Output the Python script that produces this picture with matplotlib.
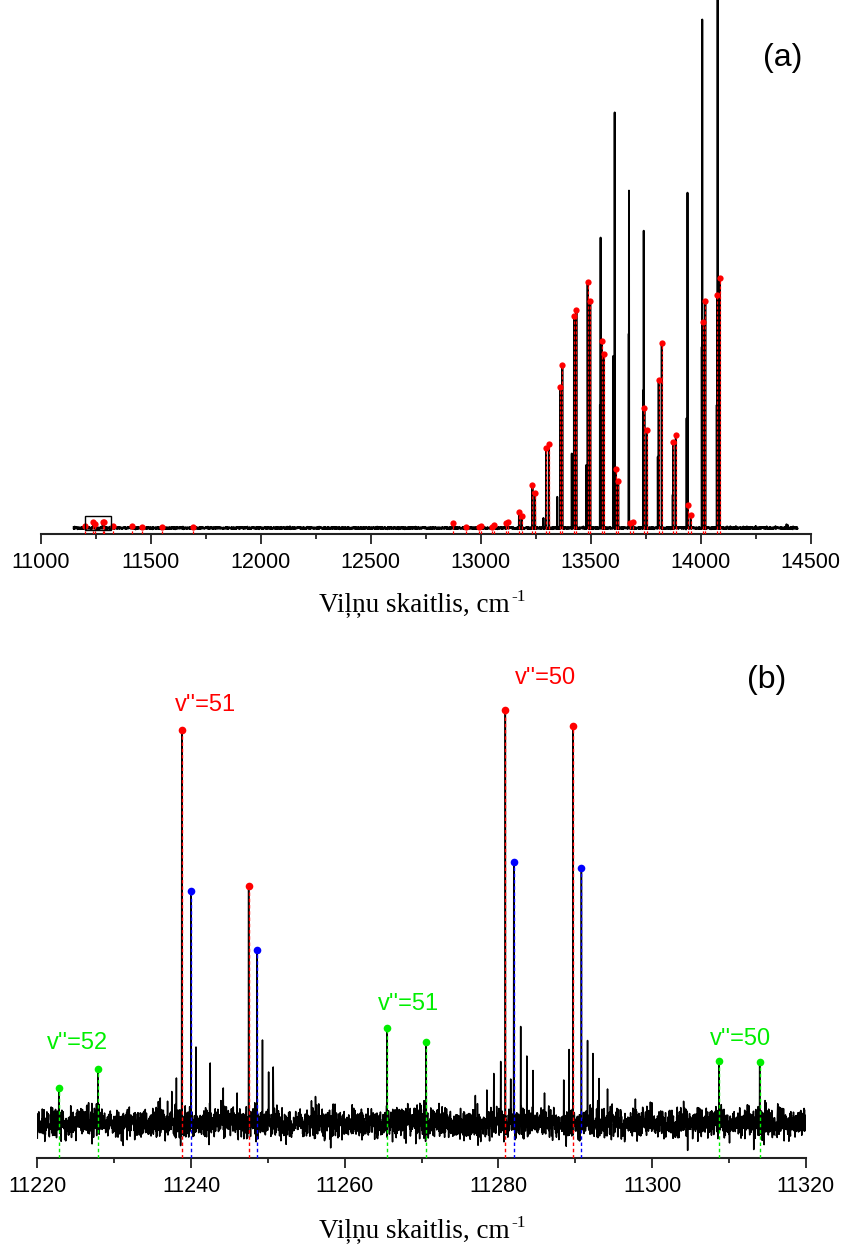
import numpy as np
import matplotlib
matplotlib.use('Agg')
import matplotlib.pyplot as plt
from matplotlib.patches import Rectangle
from matplotlib.ticker import MultipleLocator

# ---------------- panel (a) data ----------------
a_red_wn = [11201, 11239, 11248, 11282, 11288, 11330, 11414, 11459, 11551, 11691,
            12873, 12932, 12992, 13003, 13050, 13062, 13114, 13124, 13174, 13186,
            13235, 13247, 13297, 13310, 13362, 13371, 13424, 13435, 13486, 13498,
            13550, 13560, 13615, 13625, 13677, 13692, 13744, 13756, 13809, 13823,
            13875, 13887, 13942, 13955, 14009, 14021, 14075, 14087]
a_red_h = [0.38, 1.08, 0.70, 1.08, 1.08, 0.44, 0.32, 0.25, 0.25, 0.25,
           0.89, 0.13, 0.19, 0.32, 0.25, 0.63, 0.95, 1.08, 3.03, 2.37,
           8.18, 6.63, 15.2, 15.9, 26.8, 30.8, 40.2, 41.3, 46.6, 42.9,
           35.4, 32.9, 11.1, 8.9, 0.89, 1.08, 22.8, 18.5, 28.0, 35.0,
           16.2, 17.6, 4.36, 2.46, 39.1, 42.9, 44.1, 47.3]
a_tall_wn = [13545, 13609, 13674, 13741, 13940, 14007, 14077]
a_tall_h = [55.0, 78.7, 63.9, 56.3, 63.5, 96.3, 104.0]
a_side_wn = [13285, 13348, 13414, 13479, 13542, 13603, 13673, 13739, 13805, 13873,
             13936, 14005, 14073]
a_side_h = [1.9, 5.9, 14.1, 11.9, 23.3, 32.6, 36.8, 26.1, 13.5, 6.3,
            20.8, 34.3, 23.3]
a_small_wn = [11760, 11850, 11940, 12030, 12120, 14120, 14160, 14210, 14250, 14300,
              14340, 14390, 14395, 14420]
a_small_h = [0.25, 0.2, 0.25, 0.2, 0.25, 0.3, 0.35, 0.3, 0.4, 0.3,
             0.35, 0.7, 0.6, 0.3]
a_box = [11200, 11320]
a_xticks = [11000, 11500, 12000, 12500, 13000, 13500, 14000, 14500]

# ---------------- panel (b) data ----------------
b_red_wn = [11238.8, 11247.5, 11280.9, 11289.7]
b_red_h = [78.7, 47.5, 82.7, 79.5]
b_blue_wn = [11240.0, 11248.6, 11282.0, 11290.8]
b_blue_h = [46.5, 34.6, 52.3, 51.1]
b_green_wn = [11222.8, 11227.9, 11265.5, 11270.6, 11308.7, 11314.0]
b_green_h = [7.06, 10.9, 19.1, 16.3, 12.4, 12.2]
b_extra_wn = [11236.0, 11237.5, 11238.1, 11240.65, 11242.5, 11244.2, 11246.0, 11249.3,
              11250.1, 11250.7, 11256.2, 11277.0, 11278.5, 11279.4, 11280.3, 11281.6,
              11282.9, 11283.7, 11284.5, 11286.0, 11288.5, 11289.2, 11291.6, 11292.3,
              11293.1, 11294.2]
b_extra_h = [5.0, 6.3, 9.0, 15.2, 12.0, 7.0, 6.0, 16.6,
             10.2, 11.2, 5.3, 5.5, 6.6, 9.9, 12.3, 8.8,
             19.3, 13.4, 10.5, 6.0, 8.6, 14.7, 16.5, 13.9,
             8.9, 6.8]
b_labels = ["v''=51", "v''=50", "v''=52", "v''=51", "v''=50"]
b_label_colors = ['#ff0000', '#ff0000', '#00ee00', '#00ee00', '#00ee00']
b_xticks = [11220, 11240, 11260, 11280, 11300, 11320]

xlabel_main = 'Viļņu skaitlis, cm'
xlabel_sup = '-1'

RED = '#ff0000'
BLUE = '#0000ff'
GREEN = '#00ee00'

W, H = 844, 1244
fig = plt.figure(figsize=(W / 100, H / 100), dpi=100)


def spectrum(grid, base, wns, hs):
    y = base.copy()
    for w, h in zip(wns, hs):
        i = int(np.argmin(np.abs(grid - w)))
        y[i] = max(y[i], h)
    return y


def style_axis(ax, minor, ticks):
    ax.patch.set_visible(False)
    for s in ['left', 'top', 'right']:
        ax.spines[s].set_visible(False)
    ax.spines['bottom'].set_linewidth(1.5)
    ax.spines['bottom'].set_color('#222222')
    ax.set_yticks([])
    ax.set_xticks(ticks)
    ax.xaxis.set_minor_locator(MultipleLocator(minor))
    ax.tick_params(axis='x', which='major', length=7.5, width=1.3, color='#222222',
                   direction='out', pad=5, labelsize=15.5)
    ax.tick_params(axis='x', which='minor', length=3.8, width=1.3, color='#222222',
                   direction='out')
    for lab in ax.get_xticklabels():
        lab.set_fontfamily('Liberation Sans')


def axis_label(x_left_px, baseline_px):
    t = fig.text(x_left_px / W, 1 - baseline_px / H, xlabel_main, fontsize=19.5,
                 fontfamily='Liberation Serif', ha='left', va='baseline')
    fig.canvas.draw()
    bb = t.get_window_extent()
    fig.text((bb.x1 + 2) / W, 1 - (baseline_px - 10) / H, xlabel_sup, fontsize=12.5,
             fontfamily='Liberation Serif', ha='left', va='baseline')


rng = np.random.default_rng(3)

# ---------------- panel (a) ----------------
a_bottom_px, a_top_px = 534.3, 0.0
axA = fig.add_axes([40.7 / W, 1 - a_bottom_px / H, (810.7 - 40.7) / W,
                    (a_bottom_px - a_top_px) / H])
ga = np.arange(11150, 14440, 0.5)
base_a = rng.normal(0, 0.08, ga.size)
all_wn = a_red_wn + a_tall_wn + a_side_wn + a_small_wn
all_h = a_red_h + a_tall_h + a_side_h + a_small_h
ya = spectrum(ga, base_a, all_wn, all_h)
axA.plot(ga, ya, color='black', lw=1.4, zorder=2)
yminA = -1.19
axA.vlines(a_red_wn, yminA, a_red_h, colors=RED, linestyles=(0, (2.5, 1.5)), lw=0.9, zorder=3)
axA.plot(a_red_wn, a_red_h, 'o', color=RED, ms=4.5, mec='none', zorder=4)
axA.add_patch(Rectangle((a_box[0], -0.44), a_box[1] - a_box[0], 2.77, fill=False,
                        ec='black', lw=1.0, zorder=5))
axA.set_xlim(11000, 14500)
axA.set_ylim(yminA, 100)
style_axis(axA, 250, a_xticks)
fig.text(783 / W, 1 - 58 / H, '(a)', fontsize=23, fontfamily='Liberation Sans',
         ha='center', va='center')

# ---------------- panel (b) ----------------
b_bottom_px, b_top_px = 1158.3, 640.0
axB = fig.add_axes([37.3 / W, 1 - b_bottom_px / H, (805.8 - 37.3) / W,
                    (b_bottom_px - b_top_px) / H])
gb = np.arange(11220, 11320.01, 0.025)
base_b = rng.normal(0, 1.5, gb.size)
yb = spectrum(gb, base_b, b_red_wn + b_blue_wn + b_green_wn + b_extra_wn,
              b_red_h + b_blue_h + b_green_h + b_extra_h)
axB.plot(gb, yb, color='black', lw=1.1, zorder=2)
yminB = -7.06
dash = (0, (2.5, 2.0))
axB.vlines(b_red_wn, yminB, b_red_h, colors=RED, linestyles=dash, lw=1.0, zorder=3)
axB.vlines(b_blue_wn, yminB, b_blue_h, colors=BLUE, linestyles=dash, lw=1.0, zorder=3)
axB.vlines(b_green_wn, yminB, b_green_h, colors=GREEN, linestyles=dash, lw=1.0, zorder=3)
axB.plot(b_red_wn, b_red_h, 'o', color=RED, ms=5.5, mec='none', zorder=4)
axB.plot(b_blue_wn, b_blue_h, 'o', color=BLUE, ms=5.5, mec='none', zorder=4)
axB.plot(b_green_wn, b_green_h, 'o', color=GREEN, ms=5.5, mec='none', zorder=4)
axB.set_xlim(11220, 11320)
axB.set_ylim(yminB, (1123 - b_top_px) / 5)
style_axis(axB, 10, b_xticks)
fig.text(767 / W, 1 - 680 / H, '(b)', fontsize=23, fontfamily='Liberation Sans',
         ha='center', va='center')

label_px = [(205.8, 705), (545.3, 678.3), (77.5, 1042.7), (408, 1004), (740.5, 1039.3)]
for (px, py), txt, col in zip(label_px, b_labels, b_label_colors):
    fig.text(px / W, 1 - py / H, txt, fontsize=17, fontfamily='Liberation Sans',
             color=col, ha='center', va='center')

axis_label(319, 611)
axis_label(319, 1237)

fig.savefig('out.png', dpi=100)
